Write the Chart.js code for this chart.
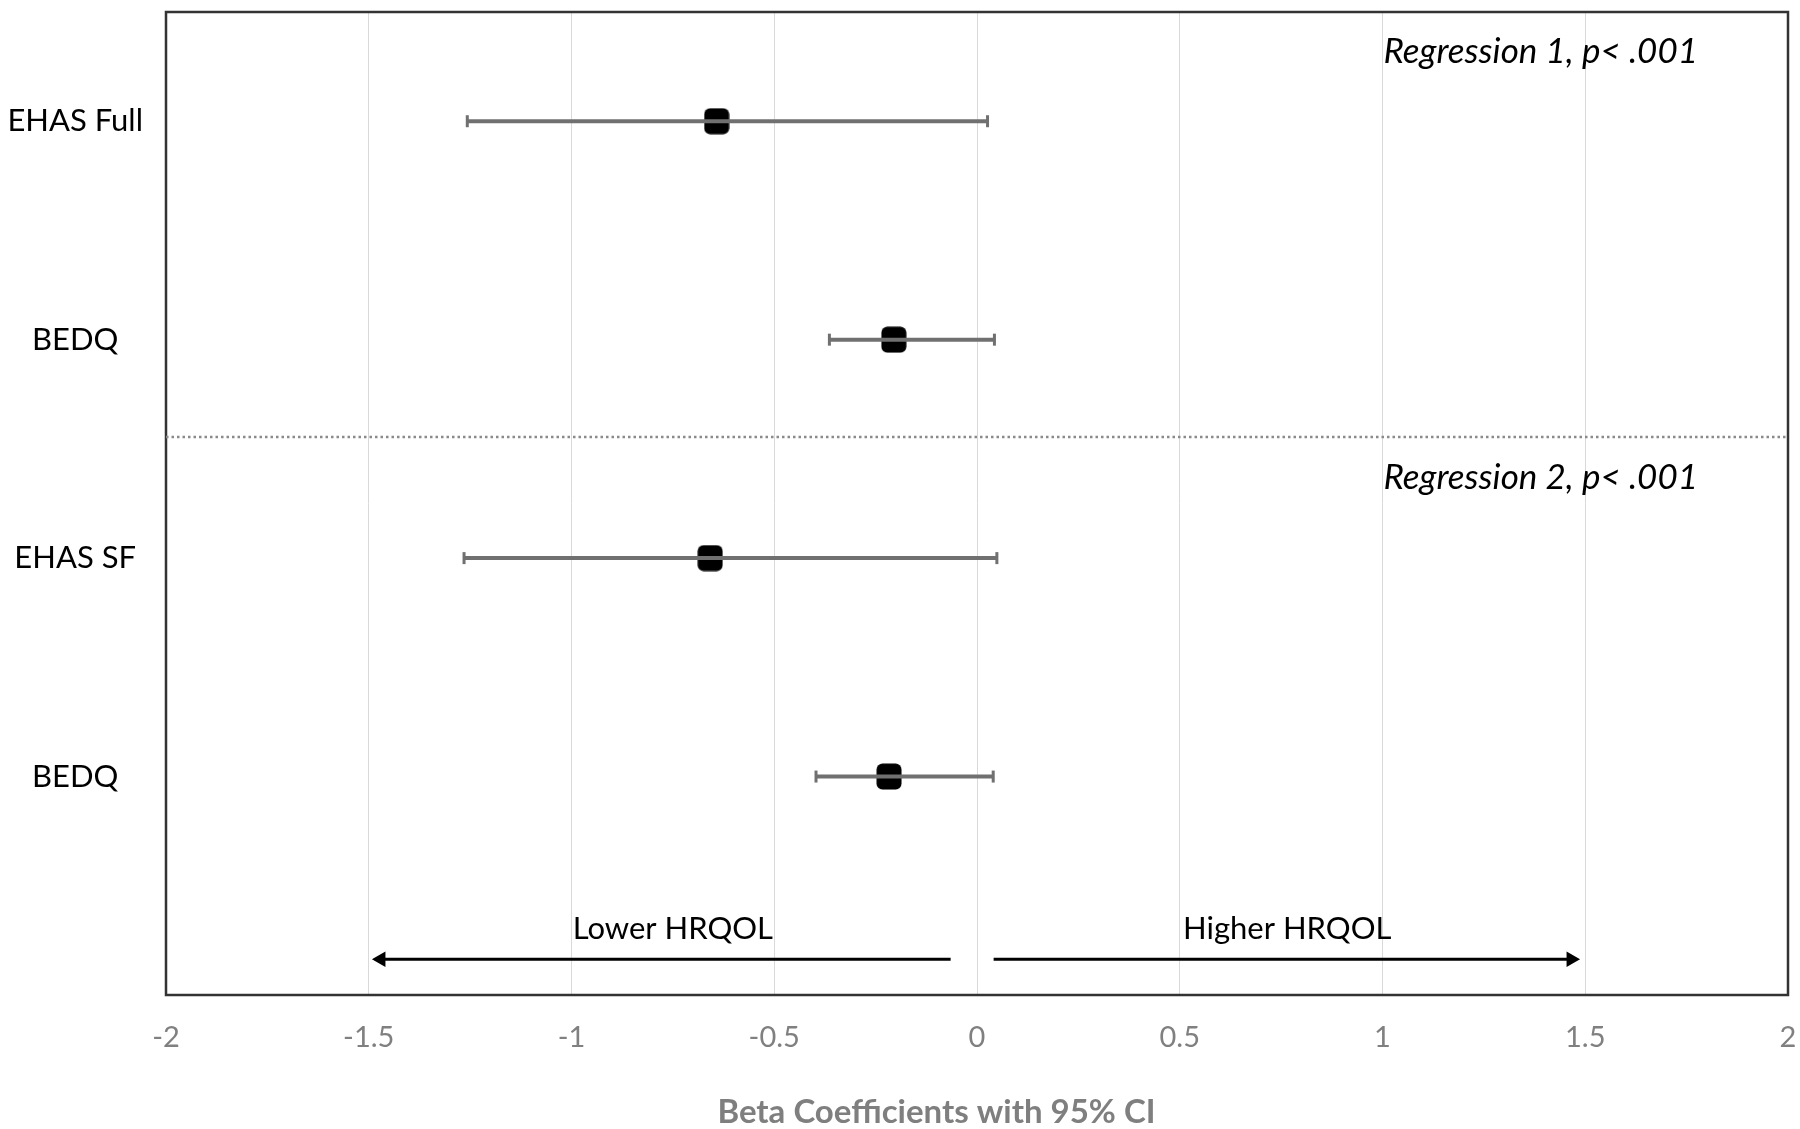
<!DOCTYPE html>
<html>
<head>
<meta charset="utf-8">
<title>Beta Coefficients with 95% CI</title>
<script src="https://cdn.jsdelivr.net/npm/chart.js@4.4.1/dist/chart.umd.min.js"></script>
<style>
  html, body { margin: 0; padding: 0; background: #fff; }
  #wrap { width: 1800px; height: 1129px; }
</style>
</head>
<body>
<div id="wrap"><canvas id="chart" width="1800" height="1129"></canvas></div>
<script>
// valores
const categories = ['EHAS Full', 'BEDQ', 'EHAS SF', 'BEDQ'];
const beta = [-0.642, -0.205, -0.658, -0.217];
const ciLower = [-1.257, -0.364, -1.265, -0.397];
const ciUpper = [0.026, 0.043, 0.049, 0.040];
const xTicks = [-2, -1.5, -1, -0.5, 0, 0.5, 1, 1.5, 2];

const regressionNotes = ['Regression 1, p< .001', 'Regression 2, p< .001'];
const directionLabels = ['Lower HRQOL', 'Higher HRQOL'];
const arrowStart = [-0.065, 0.041];
const arrowEnd = [-1.47, 1.465];
const axisTitle = 'Beta Coefficients with 95% CI';

const FONT = 'Lato, "Open Sans", sans-serif';
const GREY_BAR = '#707070';

// linha pontilhada entre as duas regressões
const separatorRow = 1.946;
const arrowRow = 4.336;

/*
* Marcador: quadrado preto de cantos arredondados.
* Desenhado num canvas pequeno e usado como pointStyle.
*/
function roundedSquare(w, h, r) {
  const c = document.createElement('canvas');
  c.width = w;
  c.height = h;
  const g = c.getContext('2d');
  g.fillStyle = '#000';
  g.beginPath();
  g.roundRect(0.5, 0.5, w - 1, h - 1, r);
  g.fill();
  return c;
}

const ciDatasets = categories.map((c, i) => ({
  label: c + ' CI',
  showLine: true,
  data: [{ x: ciLower[i], y: i + 0.5 }, { x: ciUpper[i], y: i + 0.5 }],
  borderColor: GREY_BAR,
  borderWidth: 4,
  pointStyle: 'line',
  rotation: 90,
  pointRadius: 6,
  pointBorderWidth: 3,
  pointBorderColor: GREY_BAR,
  pointBackgroundColor: GREY_BAR
}));

const arrowDatasets = directionLabels.map((d, i) => ({
  label: d,
  showLine: true,
  data: [{ x: arrowStart[i], y: arrowRow }, { x: arrowEnd[i], y: arrowRow }],
  borderColor: '#000',
  borderWidth: 3,
  pointStyle: 'triangle',
  rotation: i === 0 ? -90 : 90,
  pointRadius: [0, 9],
  pointBorderWidth: 0,
  pointBackgroundColor: '#000'
}));

const separator = {
  label: 'separator',
  showLine: true,
  data: [{ x: -2, y: separatorRow }, { x: 2, y: separatorRow }],
  borderColor: '#8a8a8a',
  borderWidth: 2.5,
  borderDash: [2.5, 3],
  pointRadius: 0
};

const markers = {
  label: 'Beta',
  data: beta.map((b, i) => ({ x: b, y: i + 0.5 })),
  pointStyle: roundedSquare(26, 27, 6),
  pointRadius: 13,
  pointBorderWidth: 0,
  backgroundColor: '#000'
};

/*
* Fundo branco, moldura da área do gráfico e os textos soltos.
*/
const decorations = {
  id: 'decorations',
  beforeDraw(chart) {
    const ctx = chart.ctx;
    ctx.save();
    ctx.fillStyle = '#fff';
    ctx.fillRect(0, 0, chart.width, chart.height);
    ctx.restore();
  },
  beforeDatasetsDraw(chart) {
    const { ctx, chartArea: a } = chart;
    ctx.save();
    ctx.strokeStyle = '#333';
    ctx.lineWidth = 2.5;
    ctx.strokeRect(a.left, a.top, a.right - a.left, a.bottom - a.top);
    ctx.restore();
  },
  afterDraw(chart) {
    const { ctx } = chart;
    const x = chart.scales.x;
    const y = chart.scales.y;
    ctx.save();
    ctx.fillStyle = '#000';
    ctx.textBaseline = 'middle';

    ctx.font = 'italic 35px ' + FONT;
    ctx.textAlign = 'right';
    ctx.fillText(regressionNotes[0], x.getPixelForValue(1.778), y.getPixelForValue(0.183));
    ctx.fillText(regressionNotes[1], x.getPixelForValue(1.778), y.getPixelForValue(2.13));

    ctx.font = '31px ' + FONT;
    ctx.textAlign = 'center';
    ctx.fillText(directionLabels[0], x.getPixelForValue(-0.75), y.getPixelForValue(4.2));
    ctx.fillText(directionLabels[1], x.getPixelForValue(0.765), y.getPixelForValue(4.2));

    ctx.font = 'bold 33px ' + FONT;
    ctx.fillStyle = '#7f7f7f';
    ctx.fillText(axisTitle, x.getPixelForValue(-0.1), x.bottom - 17);
    ctx.restore();
  }
};

const ctx = document.getElementById('chart');

new Chart(ctx, {
  type: 'scatter',
  data: {
    datasets: [separator, ...ciDatasets, ...arrowDatasets, markers]
  },
  options: {
    responsive: false,
    animation: false,
    devicePixelRatio: 1,
    layout: { autoPadding: false, padding: { top: 12, right: 12, left: 0, bottom: 0 } },
    plugins: {
      legend: { display: false },
      tooltip: { enabled: false }
    },
    scales: {
      x: {
        type: 'linear',
        min: -2,
        max: 2,
        afterBuildTicks: (s) => { s.ticks = xTicks.map(v => ({ value: v })); },
        afterFit: (s) => {
          s.height = 134;
          s.paddingLeft = 0;
          s.paddingRight = 0;
        },
        ticks: {
          callback: (v) => String(v),
          color: '#808080',
          padding: 25,
          font: { family: FONT, size: 29 }
        },
        grid: { color: '#d9d9d9', lineWidth: 1, drawTicks: false },
        border: { display: false }
      },
      y: {
        type: 'linear',
        min: 0,
        max: 4.5,
        reverse: true,
        afterBuildTicks: (s) => { s.ticks = categories.map((c, i) => ({ value: i + 0.5 })); },
        afterFit: (s) => {
          s.width = 166;
          s.paddingTop = 0;
          s.paddingBottom = 0;
        },
        ticks: {
          callback: (v) => categories[Math.round(v - 0.5)],
          color: '#000',
          padding: 23,
          crossAlign: 'center',
          font: { family: FONT, size: 31 }
        },
        grid: { display: false, drawTicks: false },
        border: { display: false }
      }
    }
  },
  plugins: [decorations]
});
</script>
</body>
</html>
